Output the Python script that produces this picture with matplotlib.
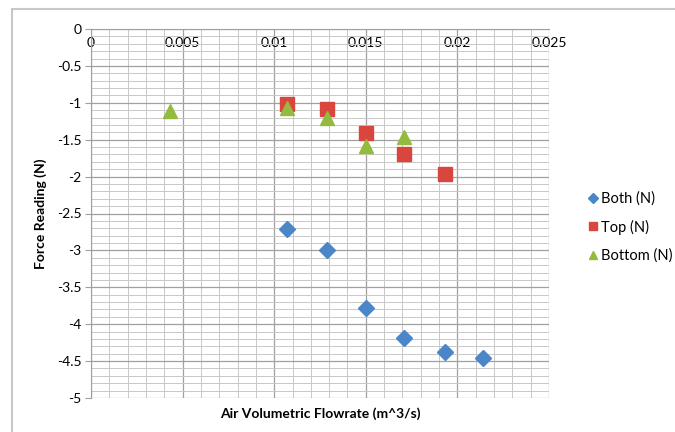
import matplotlib.pyplot as plt
from matplotlib.patches import Rectangle
from matplotlib.ticker import MultipleLocator

# Data
both_x = [0.0107, 0.0129, 0.0150, 0.0171, 0.0193, 0.0214]
both_y = [-2.71, -3.00, -3.78, -4.19, -4.38, -4.46]
top_x = [0.0107, 0.0129, 0.0150, 0.0171, 0.0193]
top_y = [-1.02, -1.08, -1.41, -1.69, -1.96]
bottom_x = [0.0043, 0.0107, 0.0129, 0.0150, 0.0171]
bottom_y = [-1.11, -1.07, -1.20, -1.58, -1.47]

plt.rcParams['font.family'] = ['Lato', 'DejaVu Sans']

fig = plt.figure(figsize=(6.75, 4.32), dpi=100)
ax = fig.add_axes([91 / 675, 1 - 398 / 432, 458 / 675, 369 / 432])

# outer chart frame (Excel style)
fig.patches.append(Rectangle((12 / 675, -0.1), 1.2, (432 - 9) / 432 + 0.1,
                             transform=fig.transFigure, fill=False,
                             edgecolor='#c8c8c8', linewidth=1.5))

ax.plot(both_x, both_y, 'D', color='#4a86c8', markersize=8.5, label='Both (N)')
ax.plot(top_x, top_y, 's', color='#d9463e', markersize=9.5, label='Top (N)')
ax.plot(bottom_x, bottom_y, '^', color='#93bb3e', markersize=10.5, label='Bottom (N)')

ax.set_xlim(0, 0.025)
ax.set_ylim(-5, 0)
ax.xaxis.set_major_locator(MultipleLocator(0.005))
ax.xaxis.set_minor_locator(MultipleLocator(0.001))
ax.yaxis.set_major_locator(MultipleLocator(0.5))
ax.yaxis.set_minor_locator(MultipleLocator(0.1))
ax.xaxis.set_major_formatter(plt.FuncFormatter(lambda v, p: '0' if v == 0 else f'{v:g}'))
ax.yaxis.set_major_formatter(plt.FuncFormatter(lambda v, p: '0' if v == 0 else f'{v:g}'))

ax.grid(True, which='major', color='#a0a0a0', linewidth=0.9)
ax.grid(True, which='minor', color='#c8c8c8', linewidth=0.7)
ax.set_axisbelow(True)

# x axis sits at y=0 with labels below it
ax.spines['bottom'].set_position(('data', 0))
ax.spines['bottom'].set_color('#a0a0a0')
ax.spines['left'].set_color('#a0a0a0')
ax.spines['top'].set_visible(False)
ax.spines['right'].set_visible(False)
ax.tick_params(axis='x', which='both', length=0, pad=6, labelsize=10)
ax.tick_params(axis='y', which='major', length=4, color='#a0a0a0', labelsize=10, pad=3)
ax.tick_params(axis='y', which='minor', length=0)

ax.set_xlabel('Air Volumetric Flowrate (m^3/s)', fontsize=10, fontweight='bold')
ax.xaxis.set_label_coords(0.5, -0.025)
ax.set_ylabel('Force Reading (N)', fontsize=10, fontweight='bold')
ax.yaxis.set_label_coords(-0.095, 0.5)

fig.legend(loc='center left', bbox_to_anchor=(586 / 675, 1 - 227 / 432), frameon=False,
           fontsize=10.5, handlelength=0.6, handletextpad=0.25, labelspacing=0.95,
           markerscale=0.6, borderaxespad=0, borderpad=0.2)

fig.savefig('out.png', dpi=100)
